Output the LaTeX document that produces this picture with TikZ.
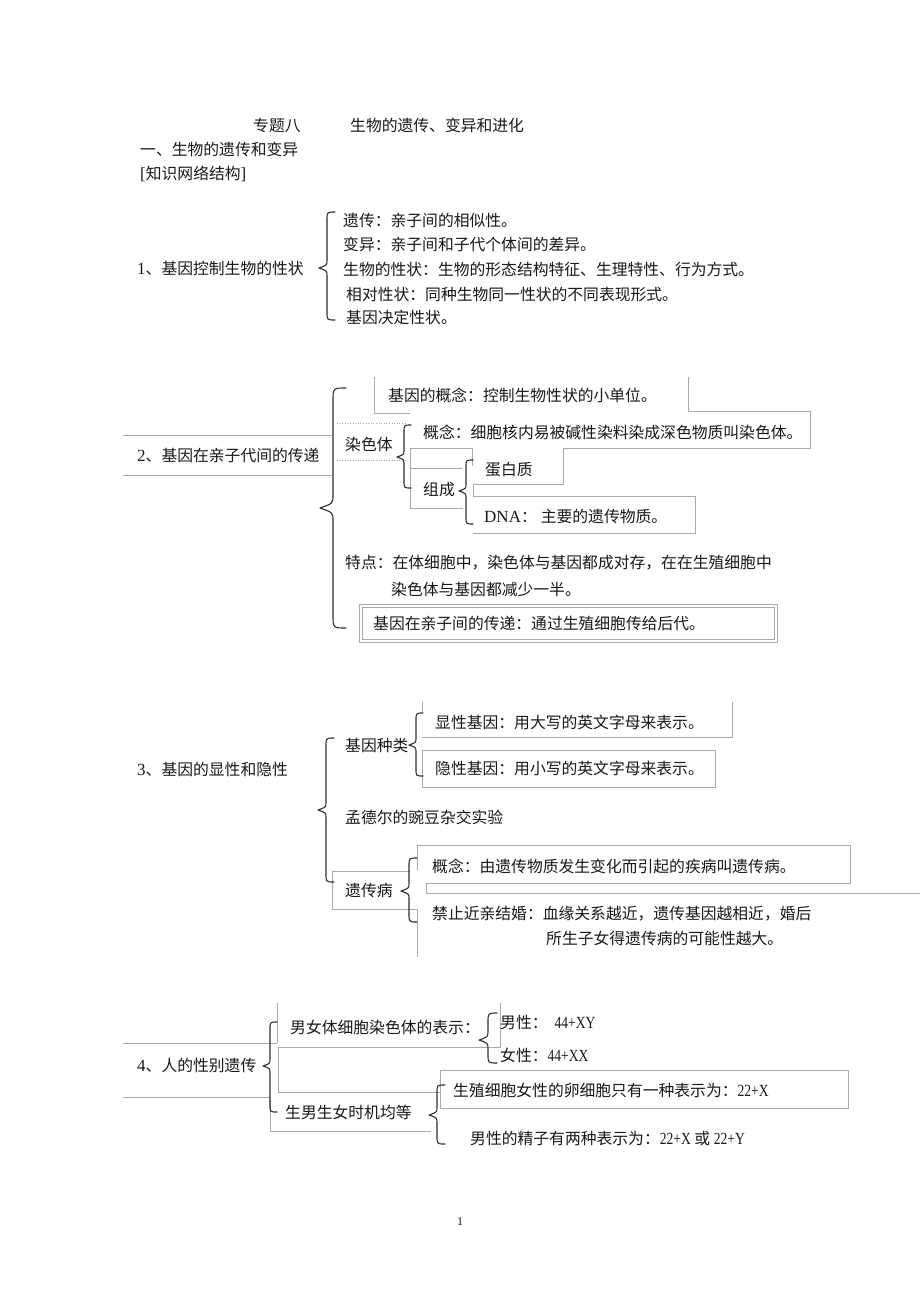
\documentclass[tikz,border=0pt]{standalone}
\usepackage{fontspec}
\setmainfont{Liberation Serif}
\newfontfamily\cjk{Noto Sans CJK SC}
\newfontfamily\latc[FakeStretch=0.8]{Liberation Serif}
\newcommand\lat[1]{{\fontsize{17}{19}\selectfont\rmfamily #1}}
\newcommand\latn[1]{{\fontsize{17}{19}\selectfont\latc #1}}
\definecolor{boxline}{RGB}{172,168,178}
\definecolor{ink}{RGB}{25,25,25}
\definecolor{bracec}{RGB}{45,45,45}
\newcommand\mybrace[5]{% spine x, top y, tip y, bottom y, curl size
  \draw[bracestyle] ({#1+#5},#2) .. controls (#1,#2) .. (#1,{#2+#5})
   -- (#1,{#3-#5}) .. controls (#1,{#3-0.35*#5}) .. ({#1-#5},#3)
   .. controls (#1,{#3+0.35*#5}) .. (#1,{#3+#5})
   -- (#1,{#4-#5}) .. controls (#1,#4) .. ({#1+#5},#4);}
\begin{document}
\begin{tikzpicture}[x=1pt,y=-1pt,
  txt/.style={anchor=west,inner sep=0pt,text height=13.9pt,text depth=1.9pt,
    font=\fontsize{15.8}{19}\selectfont\cjk,text=ink},
  boxedge/.style={draw=boxline,line width=0.6pt},
  dotedge/.style={boxedge,dotted},
  bracestyle/.style={draw=bracec,line width=1.1pt,line cap=round,line join=round}]
\useasboundingbox[fill=white] (0,0) rectangle (920,1302);

% ---------- headings ----------
\node[txt] (h1a) at (253,125) {专题八};
\node[txt] (h1b) at (350,125) {生物的遗传、变异和进化};
\node[txt] (h2) at (140,149) {一、生物的遗传和变异};
\node[txt] (h3) at (140,173) {\lat{[}知识网络结构\lat{]}};

% ---------- section 1 ----------
\node[txt] (s1) at (137,268) {\lat{1}、基因控制生物的性状};
\mybrace{327}{212}{268}{320}{8}
\node[txt] (s1a) at (343,220) {遗传：亲子间的相似性。};
\node[txt] (s1b) at (343,244) {变异：亲子间和子代个体间的差异。};
\node[txt] (s1c) at (343,269) {生物的性状：生物的形态结构特征、生理特性、行为方式。};
\node[txt] (s1d) at (346,294) {相对性状：同种生物同一性状的不同表现形式。};
\node[txt] (s1e) at (346,317) {基因决定性状。};

% ---------- section 2 ----------
\draw[boxedge] (123,435) -- (332,435);
\draw[boxedge] (123,475) -- (332,475);
\draw[boxedge] (374,377) -- (374,413) -- (410,413);
\draw[boxedge] (688,377) -- (688,411) -- (810,411) -- (810,448) -- (563,448)
  -- (563,484) -- (473,484) -- (473,496);
\draw[dotedge] (337,423) -- (407,423);
\draw[dotedge] (337,460) -- (407,460);
\draw[boxedge] (410,508) -- (410,448) -- (472,448) -- (472,466);
\draw[boxedge] (410,468) -- (462,468);
\draw[boxedge] (410,508) -- (463,508);
\draw[boxedge] (473,496) -- (695,496) -- (695,533) -- (473,533);
\draw[boxedge,line width=0.8pt] (359,604) rectangle (777,642);
\draw[boxedge] (362,607) rectangle (774,639);

\node[txt] (s2) at (137,455) {\lat{2}、基因在亲子代间的传递};
\mybrace{333}{388}{508}{628}{13}
\node[txt] (s2a) at (388,395) {基因的概念：控制生物性状的小单位。};
\node[txt] (s2b) at (345,444) {染色体};
\mybrace{404}{425}{457}{488}{7}
\node[txt] (s2c) at (423,432) {概念：细胞核内易被碱性染料染成深色物质叫染色体。};
\node[txt] (s2d) at (423,489) {组成};
\mybrace{466}{460}{491}{524}{7}
\node[txt] (s2e) at (485,469) {蛋白质};
\node[txt] (s2f) at (484,516) {\lat{DNA}：\hspace{4pt}主要的遗传物质。};
\node[txt] (s2g) at (345,562) {特点：在体细胞中，染色体与基因都成对存，在在生殖细胞中};
\node[txt] (s2h) at (391,589) {染色体与基因都减少一半。};
\node[txt] (s2i) at (373,623) {基因在亲子间的传递：通过生殖细胞传给后代。};

% ---------- section 3 ----------
\draw[boxedge] (422,702) -- (422,712);
\draw[boxedge] (732,702) -- (732,737) -- (422,737);
\draw[boxedge] (422,750) rectangle (715,787);
\draw[boxedge] (410,871) -- (332,871) -- (332,909) -- (417,909) -- (417,957);
\draw[boxedge] (417,870) -- (417,845) -- (850,845) -- (850,883) -- (426,883)
  -- (426,893) -- (920,893);

\node[txt] (s3) at (137,769) {\lat{3}、基因的显性和隐性};
\mybrace{326}{738}{810}{882}{8}
\node[txt] (s3a) at (345,745) {基因种类};
\mybrace{416}{713}{745}{776}{7}
\node[txt] (s3b) at (435,722) {显性基因：用大写的英文字母来表示。};
\node[txt] (s3c) at (435,768) {隐性基因：用小写的英文字母来表示。};
\node[txt] (s3d) at (345,817) {孟德尔的豌豆杂交实验};
\node[txt] (s3e) at (345,890) {遗传病};
\mybrace{409}{858}{891}{922}{8}
\node[txt] (s3f) at (432,866) {概念：由遗传物质发生变化而引起的疾病叫遗传病。};
\node[txt] (s3g) at (432,913) {禁止近亲结婚：血缘关系越近，遗传基因越相近，婚后};
\node[txt] (s3h) at (546,938) {所生子女得遗传病的可能性越大。};

% ---------- section 4 ----------
\draw[boxedge] (123,1043) -- (277,1043);
\draw[boxedge] (123,1097) -- (270,1097);
\draw[boxedge] (277,1003) -- (277,1043);
\draw[boxedge] (500,1003) -- (500,1047) -- (278,1047) -- (278,1092) -- (440,1092);
\draw[boxedge] (440,1070) rectangle (848,1108);
\draw[boxedge] (270,1100) -- (270,1131) -- (431,1131);

\node[txt] (s4) at (137,1065) {\lat{4}、人的性别遗传};
\mybrace{270}{1022}{1066}{1112}{7}
\node[txt] (s4a) at (290,1027) {男女体细胞染色体的表示：};
\mybrace{488}{1013}{1040}{1063}{9}
\node[txt] (s4b) at (500,1022) {男性：\hspace{7pt}\latn{44+XY}};
\node[txt] (s4c) at (500,1055) {女性：\latn{44+XX}};
\node[txt] (s4d) at (285,1112) {生男生女时机均等};
\mybrace{437}{1085}{1115}{1144}{8}
\node[txt] (s4e) at (453,1090) {生殖细胞女性的卵细胞只有一种表示为：\latn{22+X}};
\node[txt] (s4f) at (470,1138) {男性的精子有两种表示为：\latn{22+X} 或 \latn{22+Y}};

% page number
\node[font=\fontsize{12}{14}\selectfont,text=ink,inner sep=0pt] (pg) at (460,1222) {1};
\end{tikzpicture}
\end{document}
